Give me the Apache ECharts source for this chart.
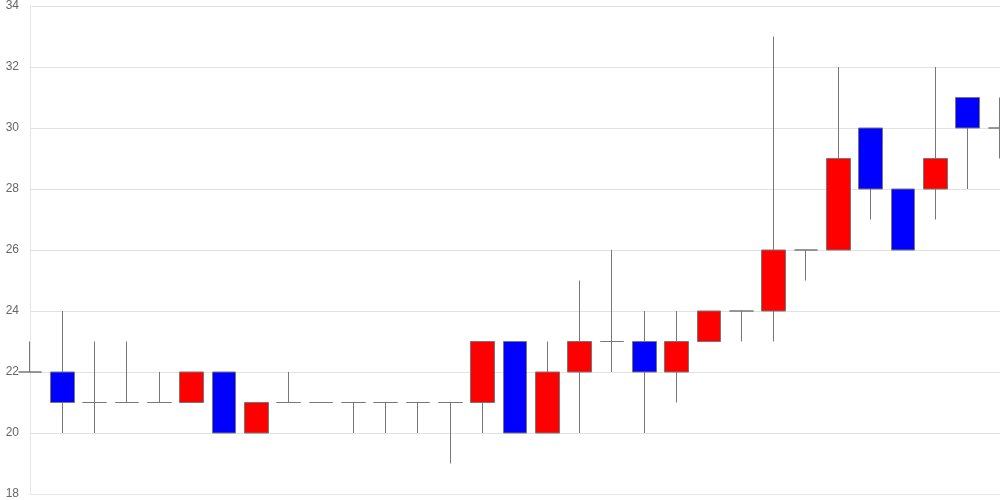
<!DOCTYPE html>
<html>
<head>
<meta charset="utf-8">
<style>
html,body{margin:0;padding:0;background:#fff;}
#chart{width:1000px;height:500px;}
</style>
<script src="https://cdn.jsdelivr.net/npm/echarts@6/dist/echarts.min.js"></script>
</head>
<body>
<div id="chart"></div>
<script>
// categories: 31 sessions
const categories = ['1','2','3','4','5','6','7','8','9','10','11','12','13','14','15','16','17','18','19','20','21','22','23','24','25','26','27','28','29','30','31'];
const openValues  = [22,22,21,21,21,21,22,20,21,21,21,21,21,21,21,23,20,22,23,23,22,23,24,24,26,26,30,28,28,31,30];
const closeValues = [22,21,21,21,21,22,20,21,21,21,21,21,21,21,23,20,22,23,23,22,23,24,24,26,26,29,28,26,29,30,30];
const lowValues   = [22,20,20,21,21,21,20,20,21,21,20,20,20,19,20,20,20,20,22,20,21,23,23,23,25,26,27,26,27,28,29];
const highValues  = [23,24,23,23,22,22,22,21,22,21,21,21,21,21,23,23,23,25,26,24,24,24,24,33,26,32,30,28,32,31,31];
const yTicks = [18,20,22,24,26,28,30,32,34];

const ohlc = categories.map((c, i) => [openValues[i], closeValues[i], lowValues[i], highValues[i]]);

const chart = echarts.init(document.getElementById('chart'), null, {renderer: 'canvas'});
chart.setOption({
  animation: false,
  backgroundColor: '#fff',
  grid: {left: 30, right: 0, top: 6, bottom: 6, containLabel: false},
  xAxis: {
    type: 'category',
    data: categories,
    boundaryGap: false,
    axisLine: {show: true, lineStyle: {color: '#e6e6e6'}},
    axisTick: {show: false},
    axisLabel: {show: false},
    splitLine: {show: false}
  },
  yAxis: {
    type: 'value',
    min: yTicks[0],
    max: yTicks[yTicks.length - 1],
    interval: 2,
    axisLine: {show: true, lineStyle: {color: '#e6e6e6'}},
    axisTick: {show: false},
    axisLabel: {color: '#666', fontSize: 12, fontFamily: 'Liberation Sans, Arial, sans-serif', margin: 11},
    splitLine: {show: true, lineStyle: {color: '#e2e2e2'}}
  },
  series: [{
    type: 'candlestick',
    data: ohlc,
    barWidth: 24,
    itemStyle: {
      color: '#ff0000',
      color0: '#0000ff',
      borderColor: '#777',
      borderColor0: '#777',
      borderColorDoji: '#777',
      borderWidth: 1
    }
  }]
});
</script>
</body>
</html>
